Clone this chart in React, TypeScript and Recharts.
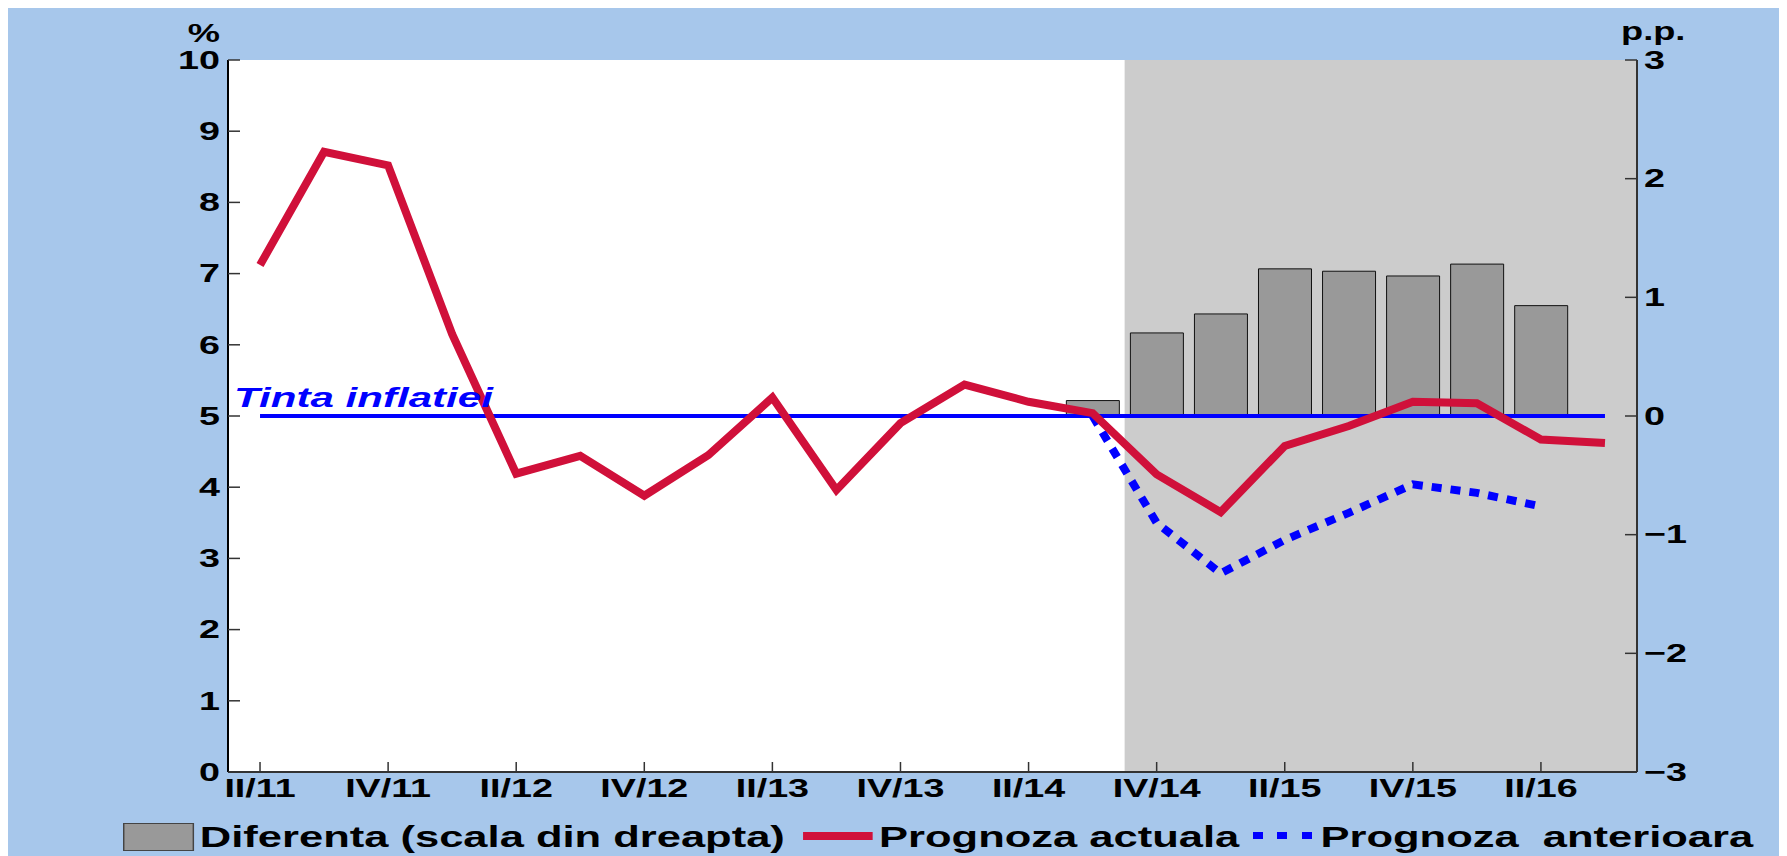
import React from 'react'
import { Bar, CartesianGrid, ComposedChart, Legend, Line, ReferenceArea, XAxis, YAxis } from 'recharts'

// quarters II/11 .. III/16
const quarters = [
  'II/11', 'III/11', 'IV/11', 'I/12', 'II/12', 'III/12', 'IV/12', 'I/13', 'II/13', 'III/13', 'IV/13',
  'I/14', 'II/14', 'III/14', 'IV/14', 'I/15', 'II/15', 'III/15', 'IV/15', 'I/16', 'II/16', 'III/16',
]

// prognoza actuala (%)
const actual = [7.12, 8.71, 8.52, 6.15, 4.19, 4.44, 3.88, 4.45, 5.26, 3.96, 4.9, 5.44, 5.2, 5.04, 4.18, 3.65, 4.58, 4.86, 5.2, 5.18, 4.67, 4.62]

// prognoza anterioara (%)
const previous = [null, null, null, null, null, null, null, null, null, null, null, null, null, 5.0, 3.5, 2.79, 3.26, 3.64, 4.04, 3.92, 3.73, null]

// tinta inflatiei (%)
const target = [5, 5, 5, 5, 5, 5, 5, 5, 5, 5, 5, 5, 5, 5, 5, 5, 5, 5, 5, 5, 5, 5]

// diferenta, scala din dreapta (p.p.)
const difference = [null, null, null, null, null, null, null, null, null, null, null, null, null, 0.13, 0.7, 0.86, 1.24, 1.22, 1.18, 1.28, 0.93, null]

const leftTicks = [0, 1, 2, 3, 4, 5, 6, 7, 8, 9, 10]
const rightTicks = [-3, -2, -1, 0, 1, 2, 3]
const legendNames = ['Diferenta (scala din dreapta)', 'Prognoza actuala', 'Prognoza  anterioara']

const data = quarters.map((q, i) => ({
  q,
  actual: actual[i],
  previous: previous[i],
  target: target[i],
  diff: difference[i],
}))

// the original picture is stretched sideways, so the text is too
const STRETCH = 1.45
const FONT = '"Liberation Sans", Arial, Helvetica, sans-serif'
const RED = '#D0103A'
const BLUE = '#0000FF'
const TICK_SIZE = 26

const LeftTick = (props: any) => {
  const { x, y, payload } = props
  return (
    <text transform={`translate(${x},${y}) scale(${STRETCH},1)`} textAnchor="end" dominantBaseline="central"
      fontFamily={FONT} fontWeight="bold" fontSize={TICK_SIZE} fill="#000">
      {payload.value}
    </text>
  )
}

const RightTick = (props: any) => {
  const { x, y, payload } = props
  const v = payload.value
  return (
    <text transform={`translate(${x},${y}) scale(${STRETCH},1)`} textAnchor="start" dominantBaseline="central"
      fontFamily={FONT} fontWeight="bold" fontSize={TICK_SIZE} fill="#000">
      {v < 0 ? `\u2212${-v}` : v}
    </text>
  )
}

const BottomTick = (props: any) => {
  const { x, y, payload } = props
  return (
    <text transform={`translate(${x},${y}) scale(${STRETCH},1)`} textAnchor="middle" dy="0.72em"
      fontFamily={FONT} fontWeight="bold" fontSize={TICK_SIZE} fill="#000">
      {payload.value}
    </text>
  )
}

const TargetLabel = (props: any) => {
  if (props.index !== 0) return <g />
  const x = props.viewBox?.x ?? props.x
  const y = props.viewBox?.y ?? props.y
  return (
    <text transform={`translate(${x - 26},${y - 9}) scale(1.56,1)`} fontFamily={FONT} fontWeight="bold"
      fontStyle="italic" fontSize={27} fill={BLUE}>
      Tinta inflatiei
    </text>
  )
}

const renderLegend = () => (
  <div style={{
    display: 'flex', alignItems: 'flex-start', whiteSpace: 'pre', color: '#000',
    font: `bold 30px/30px ${FONT}`, transform: `scaleX(${STRETCH})`, transformOrigin: 'left top',
  }}>
    <span style={{ width: 49, height: 28, marginTop: 1, marginRight: 4, background: '#999', border: '1px solid #444', boxSizing: 'border-box' }} />
    <span>{legendNames[0]}</span>
    <span style={{ width: 48, height: 8, marginTop: 10, marginLeft: 13, marginRight: 4, background: RED }} />
    <span>{legendNames[1]}</span>
    <span style={{
      width: 41, height: 7, marginTop: 10, marginLeft: 9, marginRight: 6,
      background: `repeating-linear-gradient(to right, ${BLUE} 0 7px, transparent 7px 17px)`,
    }} />
    <span>{legendNames[2]}</span>
  </div>
)

export default function App() {
  return (
    <div style={{ width: 1779, height: 848, background: '#A7C7EB', overflow: 'hidden', position: 'relative' }}>
      <ComposedChart width={1779} height={848} data={data} margin={{ top: 52, right: 0, bottom: 0, left: 0 }} barCategoryGap="9%">
        <CartesianGrid horizontal={false} vertical={false} fill="#FFFFFF" stroke="none" />
        <ReferenceArea yAxisId="left" x1="IV/14" x2="III/16" fill="#CCCCCC" fillOpacity={1} stroke="none" />
        <XAxis dataKey="q" interval={1} height={84} tickSize={-10} tickMargin={16} tick={<BottomTick />}
          axisLine={{ stroke: '#333', strokeWidth: 2 }} tickLine={{ stroke: '#333', strokeWidth: 1.5 }} />
        <YAxis yAxisId="left" domain={[0, 10]} ticks={leftTicks} width={220} tickSize={-12} tickMargin={20}
          tick={<LeftTick />} axisLine={{ stroke: '#000', strokeWidth: 2 }} tickLine={{ stroke: '#333', strokeWidth: 1.5 }}
          label={{
            content: () => (
              <text transform={`translate(212,34) scale(${STRETCH},1)`} textAnchor="end" fontFamily={FONT}
                fontWeight="bold" fontSize={25} fill="#000">%</text>
            ),
          }} />
        <YAxis yAxisId="right" orientation="right" domain={[-3, 3]} ticks={rightTicks} width={150} tickSize={-12}
          tickMargin={19} tick={<RightTick />} axisLine={{ stroke: '#333', strokeWidth: 2 }}
          tickLine={{ stroke: '#333', strokeWidth: 1.5 }}
          label={{
            content: () => (
              <text transform={`translate(1613,32) scale(${STRETCH},1)`} textAnchor="start" fontFamily={FONT}
                fontWeight="bold" fontSize={25} fill="#000">p.p.</text>
            ),
          }} />
        <Bar yAxisId="right" dataKey="diff" name={legendNames[0]} fill="#999999" stroke="#111" strokeWidth={1}
          isAnimationActive={false} />
        <Line yAxisId="left" dataKey="target" name="Tinta inflatiei" stroke={BLUE} strokeWidth={4} dot={false}
          activeDot={false} label={TargetLabel} isAnimationActive={false} />
        <Line yAxisId="left" dataKey="previous" name={legendNames[2]} stroke={BLUE} strokeWidth={8}
          strokeDasharray="10 9" dot={false} activeDot={false} isAnimationActive={false} />
        <Line yAxisId="left" dataKey="actual" name={legendNames[1]} stroke={RED} strokeWidth={8} dot={false}
          activeDot={false} isAnimationActive={false} />
        <Legend content={renderLegend} layout="horizontal" verticalAlign="middle" align="center"
          wrapperStyle={{ left: 115, top: 814, width: 1600 }} />
      </ComposedChart>
    </div>
  )
}
